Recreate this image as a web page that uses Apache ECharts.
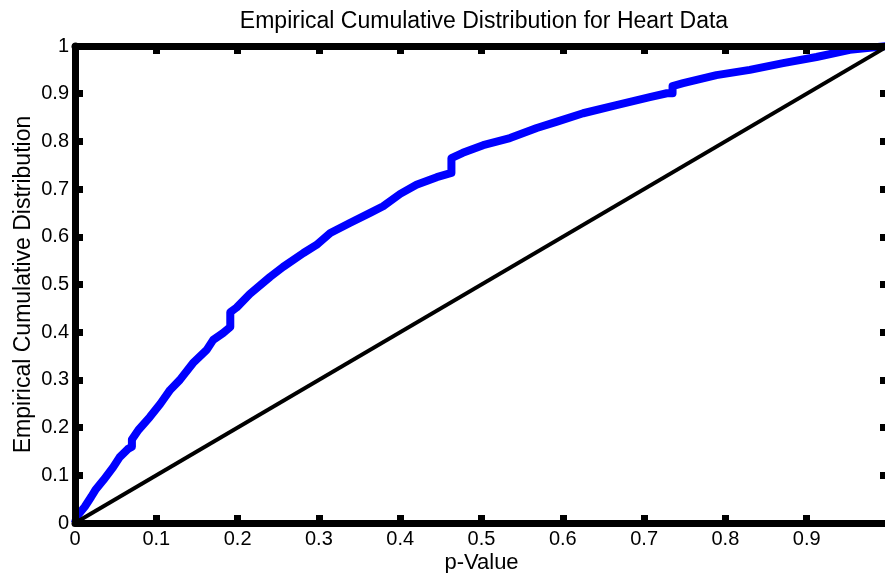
<!DOCTYPE html>
<html>
<head>
<meta charset="utf-8">
<script src="https://cdn.jsdelivr.net/npm/echarts@6/dist/echarts.min.js"></script>
<style>html,body{margin:0;padding:0;background:#fff;}#c{width:885px;height:573px;}</style>
</head>
<body>
<div id="c"></div>
<script>
var titleText = 'Empirical Cumulative Distribution for Heart Data';
var xName = 'p-Value';
var yName = 'Empirical Cumulative Distribution';
var pValues = [0, 0.002, 0.012, 0.02, 0.025, 0.035, 0.047, 0.055, 0.065, 0.07, 0.07, 0.078, 0.092, 0.105, 0.117, 0.129, 0.145, 0.162, 0.17, 0.182, 0.191, 0.191, 0.199, 0.215, 0.24, 0.256, 0.281, 0.297, 0.314, 0.338, 0.363, 0.379, 0.4, 0.42, 0.445, 0.463, 0.463, 0.477, 0.502, 0.535, 0.568, 0.592, 0.625, 0.666, 0.707, 0.728, 0.735, 0.735, 0.748, 0.789, 0.83, 0.871, 0.912, 0.953, 1.0];
var ecdfValues = [0, 0.013, 0.034, 0.055, 0.069, 0.09, 0.117, 0.138, 0.155, 0.16, 0.175, 0.195, 0.222, 0.25, 0.279, 0.3, 0.335, 0.363, 0.384, 0.398, 0.411, 0.442, 0.452, 0.48, 0.516, 0.537, 0.566, 0.583, 0.608, 0.629, 0.65, 0.664, 0.69, 0.709, 0.725, 0.734, 0.765, 0.776, 0.792, 0.807, 0.828, 0.841, 0.859, 0.876, 0.893, 0.901, 0.901, 0.916, 0.922, 0.939, 0.95, 0.964, 0.977, 0.992, 1.0];
var refX = [0, 1];
var refY = [0, 1];

var ecdfData = pValues.map(function (p, i) { return [p, ecdfValues[i]]; });
var refData = refX.map(function (p, i) { return [p, refY[i]]; });
var font = 'Arial, "Liberation Sans", sans-serif';
var lineStyleAxis = { color: '#000', width: 7 };
var tickStyle = { show: true, inside: true, length: 8, lineStyle: { color: '#000', width: 7 } };
function fmt(v) { return String(Math.round(v * 10) / 10); }

var chart = echarts.init(document.getElementById('c'), null, { renderer: 'canvas' });
chart.setOption({
  animation: false,
  backgroundColor: '#fff',
  title: {
    text: titleText, left: 479, top: 5, textAlign: 'center',
    textStyle: { fontFamily: font, fontSize: 23, fontWeight: 'normal', color: '#000' }
  },
  grid: { left: 75, width: 813, top: 46, height: 477, outerBoundsMode: 'none', containLabel: false },
  xAxis: [{
    type: 'value', min: 0, max: 1, interval: 0.1, position: 'bottom', z: 10,
    name: xName, nameLocation: 'middle', nameGap: 29, nameMoveOverlap: false,
    nameTextStyle: { fontFamily: font, fontSize: 22, color: '#000' },
    axisLine: { show: true, onZero: false, lineStyle: lineStyleAxis },
    axisTick: tickStyle,
    axisLabel: { fontFamily: font, fontSize: 20, color: '#000', margin: 6,
      formatter: function (v) { return v >= 1 ? '' : fmt(v); } },
    splitLine: { show: false }
  }, {
    type: 'value', min: 0, max: 1, interval: 0.1, position: 'top', z: 10,
    axisLine: { show: true, onZero: false, lineStyle: lineStyleAxis },
    axisTick: tickStyle, axisLabel: { show: false }, splitLine: { show: false }
  }],
  yAxis: [{
    type: 'value', min: 0, max: 1, interval: 0.1, position: 'left', z: 10,
    name: yName, nameLocation: 'middle', nameGap: 40, nameMoveOverlap: false,
    nameTextStyle: { fontFamily: font, fontSize: 23, color: '#000' },
    axisLine: { show: true, onZero: false, lineStyle: lineStyleAxis },
    axisTick: tickStyle,
    axisLabel: { fontFamily: font, fontSize: 20, color: '#000', margin: 6, formatter: fmt },
    splitLine: { show: false }
  }, {
    type: 'value', min: 0, max: 1, interval: 0.1, position: 'right', z: 10,
    axisLine: { show: true, onZero: false, lineStyle: lineStyleAxis },
    axisTick: tickStyle, axisLabel: { show: false }, splitLine: { show: false }
  }],
  series: [{
    type: 'line', data: ecdfData, showSymbol: false, symbol: 'none', clip: true,
    lineStyle: { color: '#0000ff', width: 8, join: 'round' }, z: 2
  }, {
    type: 'line', data: refData, showSymbol: false, symbol: 'none',
    lineStyle: { color: '#000', width: 4 }, z: 3
  }]
});
</script>
</body>
</html>
